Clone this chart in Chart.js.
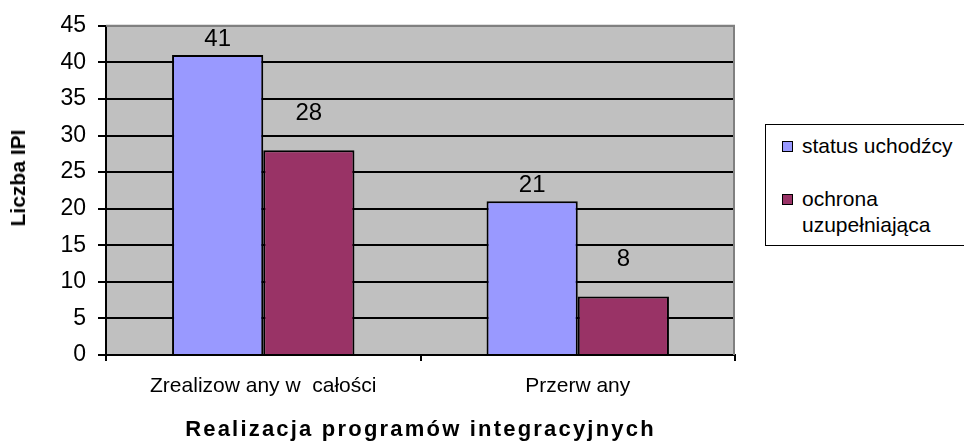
<!DOCTYPE html>
<html>
<head>
<meta charset="utf-8">
<script src="https://cdn.jsdelivr.net/npm/chart.js@4/dist/chart.umd.min.js"></script>
<style>
  html, body { margin: 0; padding: 0; background: #fff; overflow: hidden; }
  #wrap { position: relative; width: 964px; height: 443px; font-family: 'Liberation Sans', Arial, sans-serif; }
  #xTitle { position: absolute; left: 106px; width: 629px; top: 416px; text-align: center;
    font-weight: bold; font-size: 22px; letter-spacing: 2.2px; color: #000; }
  #yTitle { position: absolute; left: 18px; top: 178px; transform: translate(-50%, -50%) rotate(-90deg);
    font-weight: bold; font-size: 21px; color: #000; white-space: nowrap; }
  #legend { position: absolute; left: 765px; top: 124px; width: 240px; height: 120px;
    border: 1px solid #000; background: #fff; font-size: 21px; color: #000; }
  .sw { position: absolute; width: 9px; height: 9px; border: 1px solid #000; }
  .lt { position: absolute; line-height: 26px; white-space: nowrap; }
</style>
</head>
<body>
<div id="wrap">
  <canvas id="chart" width="964" height="443"></canvas>
  <div id="yTitle">Liczba IPI</div>
  <div id="xTitle">Realizacja programów integracyjnych</div>
  <div id="legend"></div>
</div>
<script>
// chart data
const categories = ['Zrealizow any w  całości', 'Przerw any'];
const seriesNames = ['status uchodźcy', 'ochrona uzupełniająca'];
const statusValues = [41, 21];
const ochronaValues = [28, 8];
const seriesColors = ['#9999FF', '#993366'];
const yTicks = [0, 5, 10, 15, 20, 25, 30, 35, 40, 45];

// legend, built from the series
const legend = document.getElementById('legend');
const legendRows = [
  { top: 8, lines: ['status uchodźcy'] },
  { top: 61, lines: ['ochrona', 'uzupełniająca'] }
];
seriesNames.forEach((name, i) => {
  let sw = document.createElement('div');
  sw.className = 'sw';
  sw.style.left = '16px';
  sw.style.top = (legendRows[i].top + 8) + 'px';
  sw.style.background = seriesColors[i];
  legend.appendChild(sw);
  legendRows[i].lines.forEach((line, j) => {
    let t = document.createElement('div');
    t.className = 'lt';
    t.style.left = '36px';
    t.style.top = (legendRows[i].top + j * 26) + 'px';
    t.textContent = line;
    legend.appendChild(t);
  });
});

// gray plot area with a gray frame on top/right
const plotBg = {
  id: 'plotBg',
  beforeDraw(chart) {
    const { ctx, chartArea: a } = chart;
    ctx.save();
    ctx.fillStyle = '#C0C0C0';
    ctx.fillRect(a.left, a.top, a.right - a.left, a.bottom - a.top);
    ctx.restore();
  },
  afterDraw(chart) {
    const { ctx, chartArea: a } = chart;
    ctx.save();
    ctx.strokeStyle = '#808080';
    ctx.lineWidth = 2;
    ctx.beginPath();
    ctx.moveTo(a.left, a.top);
    ctx.lineTo(a.right - 1, a.top);
    ctx.lineTo(a.right - 1, a.bottom);
    ctx.stroke();
    ctx.restore();
  }
};

// value labels above the bars (Excel puts the second series higher)
const labelOffsets = [16, 37];
const valueLabels = {
  id: 'valueLabels',
  afterDatasetsDraw(chart) {
    const ctx = chart.ctx;
    ctx.save();
    ctx.font = '24px "Liberation Sans", Arial, sans-serif';
    ctx.fillStyle = '#000';
    ctx.textAlign = 'center';
    ctx.textBaseline = 'middle';
    chart.data.datasets.forEach((ds, i) => {
      chart.getDatasetMeta(i).data.forEach((bar, j) => {
        ctx.fillText(String(ds.data[j]), bar.x, bar.y - labelOffsets[i]);
      });
    });
    ctx.restore();
  }
};

new Chart(document.getElementById('chart'), {
  type: 'bar',
  data: {
    labels: categories,
    datasets: [
      { label: seriesNames[0], data: statusValues, backgroundColor: seriesColors[0],
        borderColor: '#000', borderWidth: 2, categoryPercentage: 0.58, barPercentage: 1 },
      { label: seriesNames[1], data: ochronaValues, backgroundColor: seriesColors[1],
        borderColor: '#000', borderWidth: 2, categoryPercentage: 0.58, barPercentage: 1 }
    ]
  },
  options: {
    responsive: false,
    animation: false,
    layout: { padding: { left: 0, top: 24, right: 229, bottom: 0 } },
    plugins: { legend: { display: false }, tooltip: { enabled: false } },
    scales: {
      x: {
        afterFit: s => { s.height = 88; },
        grid: { display: true, drawOnChartArea: false, offset: true, tickLength: 6, tickColor: '#000', lineWidth: 2 },
        border: { display: true, color: '#000', width: 2 },
        ticks: { color: '#000', padding: 13, font: { family: 'Liberation Sans', size: 21 } }
      },
      y: {
        min: 0, max: 45,
        afterFit: s => { s.width = 106; },
        afterBuildTicks: s => { s.ticks = yTicks.map(v => ({ value: v })); },
        grid: { color: c => c.tick && c.tick.value === 45 ? '#808080' : '#000', tickColor: '#000', tickLength: 8, lineWidth: 2 },
        border: { display: true, color: '#000', width: 2 },
        ticks: { color: '#000', padding: 12, font: { family: 'Liberation Sans', size: 23 } }
      }
    }
  },
  plugins: [plotBg, valueLabels]
});
</script>
</body>
</html>
